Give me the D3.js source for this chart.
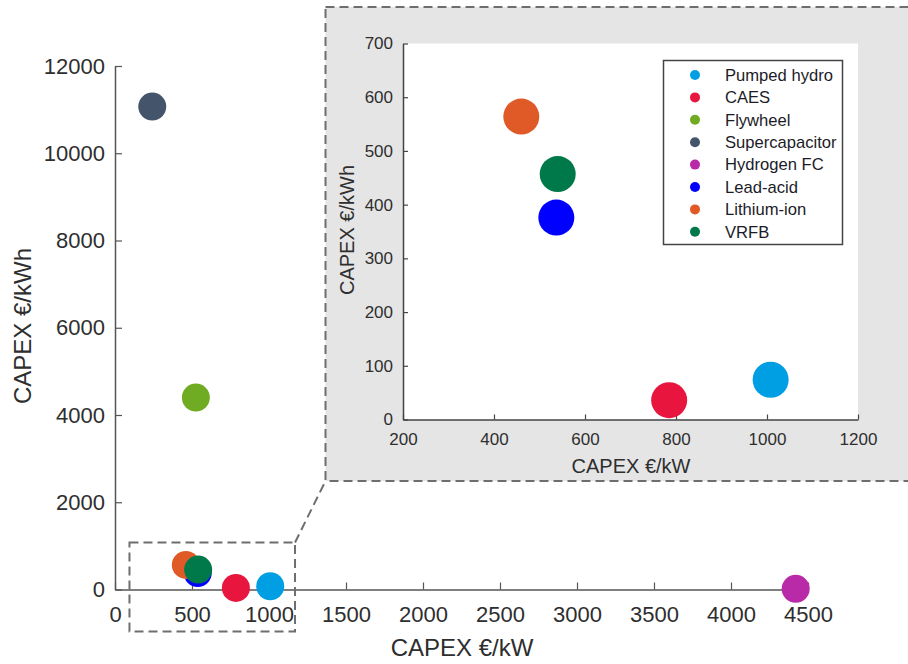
<!DOCTYPE html>
<html>
<head>
<meta charset="utf-8">
<script src="https://cdn.jsdelivr.net/npm/d3@7"></script>
<style>
  html, body { margin: 0; padding: 0; background: #fff; }
  svg { display: block; font-family: "Liberation Sans", Arial, sans-serif; }
</style>
</head>
<body>
<svg id="chart" width="908" height="664"></svg>
<script>
// ---- data ----
const technologies = ["Pumped hydro", "CAES", "Flywheel", "Supercapacitor", "Hydrogen FC", "Lead-acid", "Lithium-ion", "VRFB"];
const capexPower   = [1008, 785, 525, 242, 4420, 537, 460, 540];     // €/kW
const capexEnergy  = [74, 36, 4400, 11070, 15, 376, 564, 457];       // €/kWh
const colors       = ["#009fe3", "#e8153f", "#6fab23", "#44546a", "#b92aa8", "#0000ff", "#e05a28", "#00794a"];
const inInset      = [true, true, false, false, false, true, true, true];

const mainXTicks  = [0, 500, 1000, 1500, 2000, 2500, 3000, 3500, 4000, 4500];
const mainYTicks  = [0, 2000, 4000, 6000, 8000, 10000, 12000];
const insetXTicks = [200, 400, 600, 800, 1000, 1200];
const insetYTicks = [0, 100, 200, 300, 400, 500, 600, 700];
const zoomBoxX = [94, 1169];    // €/kW extent of the dashed zoom box
const zoomBoxY = [-962, 1077];  // €/kWh extent of the dashed zoom box

const data = technologies.map((t, i) => ({ name: t, x: capexPower[i], y: capexEnergy[i], color: colors[i], inset: inInset[i] }));

const svg = d3.select("#chart");
const textColor = "#2e2e2e";
const dashColor = "#6e6e6e";

// ---- main chart ----
const x = d3.scaleLinear().domain([0, 4500]).range([115, 808]);
const y = d3.scaleLinear().domain([0, 12000]).range([589.5, 66]);

const gx = svg.append("g").attr("transform", `translate(0,${y(0)})`)
  .call(d3.axisBottom(x).tickValues(mainXTicks).tickSizeInner(-7).tickSizeOuter(0).tickPadding(17).tickFormat(d3.format("d")));
const gy = svg.append("g").attr("transform", `translate(${x(0)},0)`)
  .call(d3.axisLeft(y).tickValues(mainYTicks).tickSizeInner(-7).tickSizeOuter(0).tickPadding(10).tickFormat(d3.format("d")));
[gx, gy].forEach(g => {
  g.select(".domain").attr("stroke", "#555").attr("stroke-width", 1.5);
  g.selectAll(".tick line").attr("stroke", "#555").attr("stroke-width", 1.2);
  g.selectAll(".tick text").attr("fill", textColor).style("font-size", "22px").style("font-family", "Liberation Sans, Arial, sans-serif");
});

svg.append("text").attr("x", 462).attr("y", 656).attr("text-anchor", "middle")
  .attr("fill", textColor).style("font-size", "24px").text("CAPEX €/kW");
svg.append("text").attr("transform", "translate(31,326) rotate(-90)").attr("text-anchor", "middle")
  .attr("fill", textColor).style("font-size", "24px").text("CAPEX €/kWh");

// ---- inset background (grey panel) ----
const panel = { x0: 325.5, y0: 7, x1: 914, y1: 481 };
svg.append("rect").attr("x", panel.x0).attr("y", panel.y0)
  .attr("width", panel.x1 - panel.x0).attr("height", panel.y1 - panel.y0)
  .attr("fill", "#e5e5e5").attr("stroke", dashColor).attr("stroke-width", 2).attr("stroke-dasharray", "9,5");

// main points
svg.append("g").selectAll("circle").data(data).join("circle")
  .attr("cx", d => x(d.x)).attr("cy", d => y(d.y)).attr("r", 14).attr("fill", d => d.color);

// zoom box in main chart, placed through the main scales
const bx0 = x(zoomBoxX[0]), bx1 = x(zoomBoxX[1]), by0 = y(zoomBoxY[1]), by1 = y(zoomBoxY[0]);
svg.append("rect").attr("x", bx0).attr("y", by0).attr("width", bx1 - bx0).attr("height", by1 - by0)
  .attr("fill", "none").attr("stroke", dashColor).attr("stroke-width", 2).attr("stroke-dasharray", "9,5");
svg.append("line").attr("x1", bx1).attr("y1", by0).attr("x2", panel.x0).attr("y2", panel.y1)
  .attr("stroke", dashColor).attr("stroke-width", 2).attr("stroke-dasharray", "9,5");

// ---- inset chart ----
const ix = d3.scaleLinear().domain([200, 1200]).range([403, 858]);
const iy = d3.scaleLinear().domain([0, 700]).range([419.5, 43.5]);

svg.append("rect").attr("x", ix(200)).attr("y", iy(700)).attr("width", ix(1200) - ix(200)).attr("height", iy(0) - iy(700)).attr("fill", "#fff");

const igx = svg.append("g").attr("transform", `translate(0,${iy(0)})`)
  .call(d3.axisBottom(ix).tickValues(insetXTicks).tickSizeInner(-5).tickSizeOuter(0).tickPadding(13).tickFormat(d3.format("d")));
const igy = svg.append("g").attr("transform", `translate(${ix(200)},0)`)
  .call(d3.axisLeft(iy).tickValues(insetYTicks).tickSizeInner(-5).tickSizeOuter(0).tickPadding(10).tickFormat(d3.format("d")));
[igx, igy].forEach(g => {
  g.select(".domain").attr("stroke", "#444").attr("stroke-width", 1.5);
  g.selectAll(".tick line").attr("stroke", "#444").attr("stroke-width", 1.2);
  g.selectAll(".tick text").attr("fill", textColor).style("font-size", "17px").style("font-family", "Liberation Sans, Arial, sans-serif");
});

svg.append("text").attr("x", 631).attr("y", 473).attr("text-anchor", "middle")
  .attr("fill", textColor).style("font-size", "20px").text("CAPEX €/kW");
svg.append("text").attr("transform", "translate(354,230) rotate(-90)").attr("text-anchor", "middle")
  .attr("fill", textColor).style("font-size", "20px").text("CAPEX €/kWh");

svg.append("g").selectAll("circle").data(data.filter(d => d.inset)).join("circle")
  .attr("cx", d => ix(d.x)).attr("cy", d => iy(d.y)).attr("r", 18).attr("fill", d => d.color);

// ---- legend ----
const lg = svg.append("g");
lg.append("rect").attr("x", 663.5).attr("y", 60.5).attr("width", 179).attr("height", 184)
  .attr("fill", "#fff").attr("stroke", "#444").attr("stroke-width", 1.5);
const rows = lg.selectAll("g.row").data(data).join("g").attr("class", "row")
  .attr("transform", (d, i) => `translate(0,${75 + i * 22.4})`);
rows.append("circle").attr("cx", 695).attr("cy", 0).attr("r", 5).attr("fill", d => d.color);
rows.append("text").attr("x", 725).attr("y", 0).attr("dy", "0.35em")
  .attr("fill", "#1c1c28").style("font-size", "16.6px").text(d => d.name);
</script>
</body>
</html>
